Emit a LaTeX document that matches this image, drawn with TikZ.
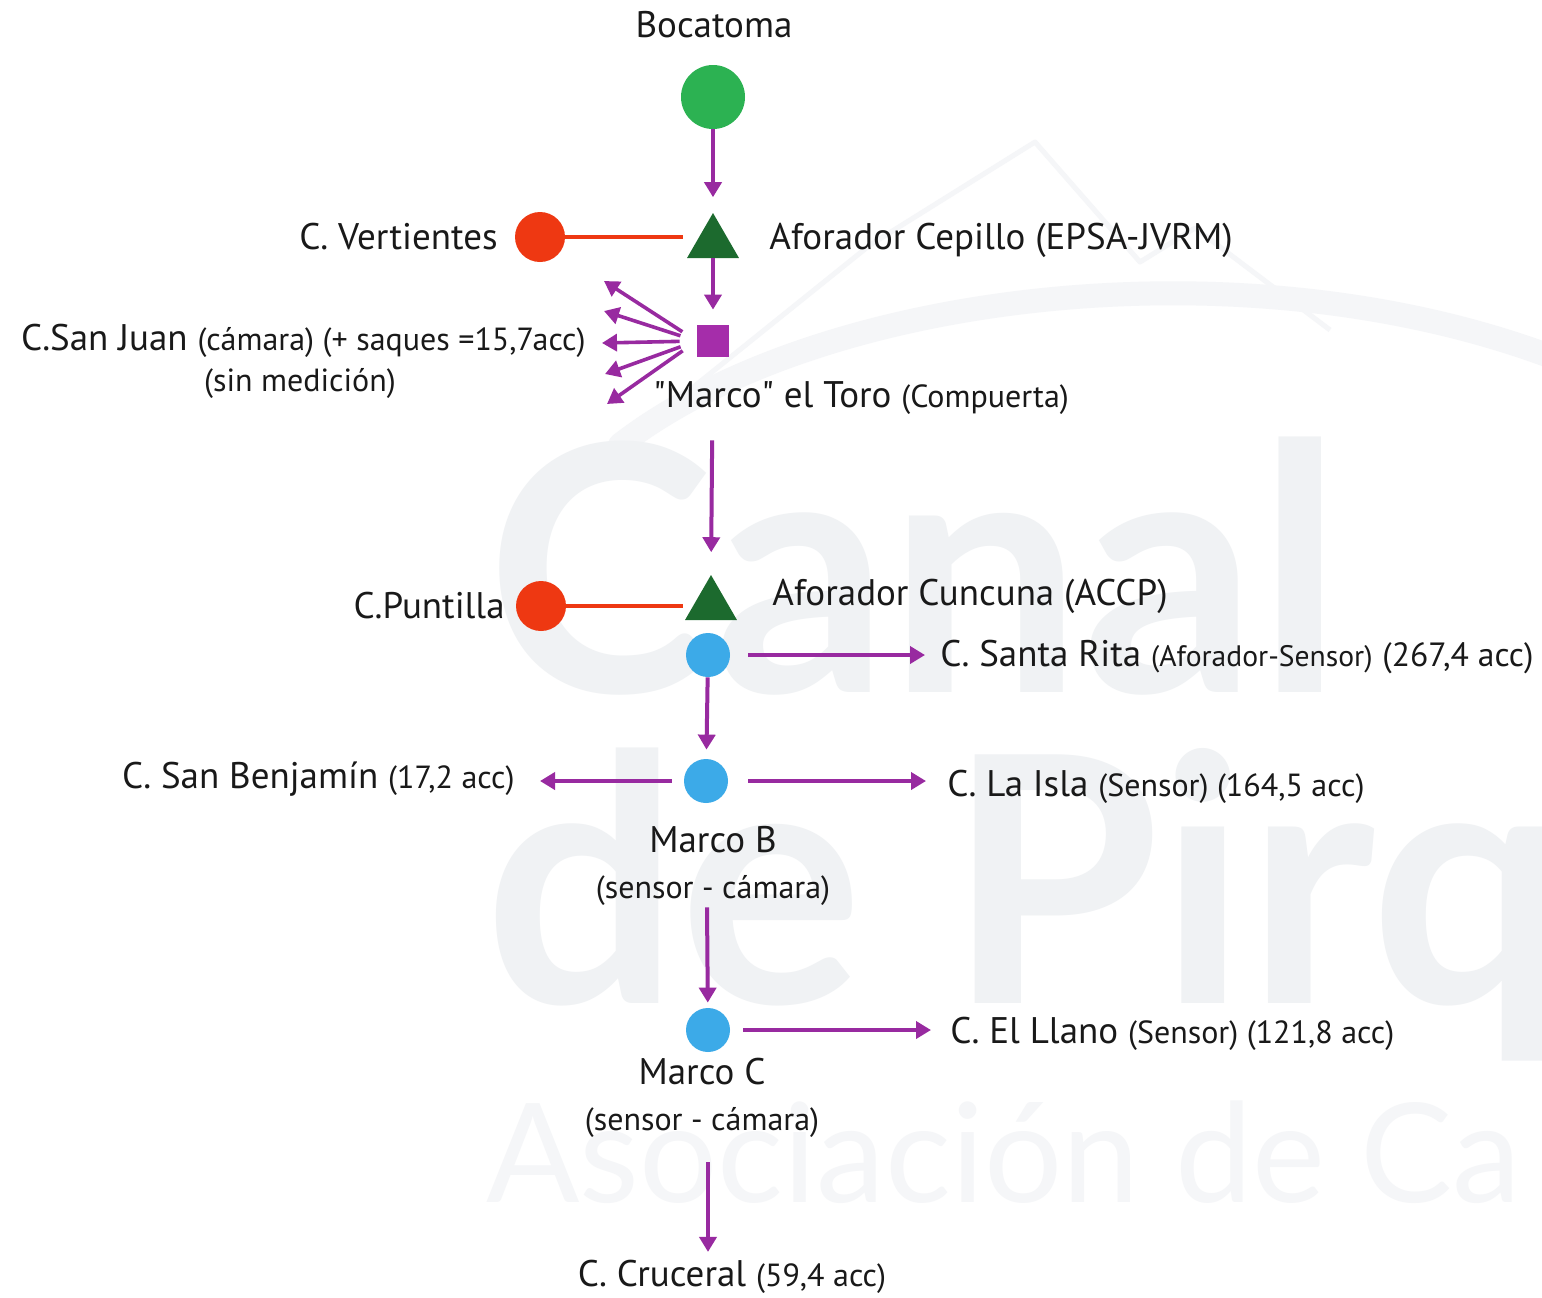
\documentclass[tikz,border=0pt]{standalone}
\usepackage{fontspec}
\setmainfont{PT Sans}
\newfontfamily\wmfont{Lato}
\font\qfont="PT Sans" at 18.5pt
\usetikzlibrary{arrows.meta,shapes.geometric}
\definecolor{purp}{RGB}{152,42,160}
\definecolor{sqpurp}{RGB}{165,45,170}
\definecolor{bgreen}{RGB}{44,178,82}
\definecolor{dgreen}{RGB}{28,106,46}
\definecolor{rred}{RGB}{238,56,18}
\definecolor{lblue}{RGB}{60,170,232}
\definecolor{ink}{RGB}{25,25,25}
\definecolor{wm}{RGB}{240,242,244}
\definecolor{wmlight}{RGB}{245,246,248}
\newcommand\sm{\fontsize{16}{18.5}\selectfont}
\begin{document}
\begin{tikzpicture}[x=0.5pt,y=-0.5pt,
  lbl/.style={text=ink,font=\fontsize{18.5}{21}\selectfont,inner sep=0pt},
  sublbl/.style={text=ink,font=\sm,inner sep=0pt},
  arr/.style={draw=purp,line width=2pt,-{Triangle[length=7.5pt,width=8.5pt]}},
  redline/.style={draw=rred,line width=1.6pt},
  dot/.style={circle,fill=#1,inner sep=0pt,minimum size=22pt},
  tri/.style={regular polygon,regular polygon sides=3,fill=dgreen,inner sep=0pt,minimum size=30pt}]
\useasboundingbox (0,0) rectangle (1542,1297);
\fill[white] (0,0) rectangle (1542,1297);
% watermark
\begin{scope}
\clip (0,0) rectangle (1542,1297);
\draw[wmlight,line width=2.5pt,line join=round] (640,430) -- (870,245) -- (1035,142) -- (1140,262) -- (1195,228) -- (1330,330);
\draw[wmlight,line width=12pt,line cap=round] (620,445) .. controls (820,290) and (1250,240) .. (1560,360);
\node[text=wm,font=\wmfont\bfseries\fontsize{172}{172}\selectfont,anchor=base west,inner sep=0pt] (wm1) at (486,692) {Canal};
\node[text=wm,font=\wmfont\bfseries\fontsize{172}{172}\selectfont,anchor=base west,inner sep=0pt] (wm2) at (484,1003) {de Pirq};
\node[text=wmlight,font=\wmfont\fontsize{69}{69}\selectfont,anchor=base west,inner sep=0pt] (wm3) at (486,1202) {Asociación de Ca};
\end{scope}
% nodes
\node[dot=bgreen,minimum size=32pt] (boca) at (713,97) {};
\node[lbl] (bocaT) at (714,25) {Bocatoma};
\node[tri] (tri1) at (713,243) {};
\node[dot=rred,minimum size=25pt] (vert) at (540,237) {};
\node[lbl,anchor=east] (vertT) at (498,237) {C. Vertientes};
\node[lbl,anchor=west] (cepT) at (769,240) {Aforador Cepillo (EPSA-JVRM)};
\node[rectangle,fill=sqpurp,inner sep=0pt,minimum size=16pt] (sq) at (713,341) {};
\node[lbl,anchor=east] (sjT) at (586,341) {C.San Juan {\sm (cámara) (+ saques =15,7acc)}};
\node[sublbl] (sjT2) at (300,383) {(sin medición)};
\node[lbl,anchor=west] (toroT) at (653,398) {{\qfont "}Marco{\qfont "} el Toro {\sm (Compuerta)}};
\coordinate (f1) at (604,281);
\coordinate (f2) at (604,311);
\coordinate (f3) at (602,343);
\coordinate (f4) at (605,374);
\coordinate (f5) at (607,404);
\node[tri] (tri2) at (711,605) {};
\node[dot=rred,minimum size=25pt] (punt) at (541,606) {};
\node[lbl,anchor=east] (puntT) at (505,606) {C.Puntilla};
\node[lbl,anchor=west] (cuncT) at (772,596) {Aforador Cuncuna (ACCP)};
\node[dot=lblue] (b1) at (708,655) {};
\node[lbl,anchor=west] (santaT) at (940,657) {C. Santa Rita {\fontsize{14.8}{17}\selectfont (Aforador-Sensor)} {\fontsize{16.8}{19}\selectfont (267,4 acc)}};
\node[dot=lblue] (b2) at (706,781) {};
\node[lbl,anchor=east] (benjT) at (515,779) {C. San Benjamín {\sm (17,2 acc)}};
\node[lbl,anchor=west] (islaT) at (947,787) {C. La Isla {\sm (Sensor) (164,5 acc)}};
\node[lbl] (mbT) at (713,840) {Marco B};
\node[sublbl] (mbT2) at (713,890) {(sensor - cámara)};
\node[dot=lblue] (b3) at (708,1030) {};
\node[lbl,anchor=west] (llanoT) at (950,1034) {C. El Llano {\sm (Sensor) (121,8 acc)}};
\node[lbl] (mcT) at (702,1072) {Marco C};
\node[sublbl] (mcT2) at (702,1122) {(sensor - cámara)};
\node[lbl] (crucT) at (732,1277) {C. Cruceral {\sm (59,4 acc)}};
% connectors
\draw[arr,shorten >=7.5pt] (boca) -- (tri1.north);
\draw[arr,shorten >=7.5pt] (tri1.south) -- (sq);
\draw[redline,shorten >=6pt] (vert.east) -- (vert.east -| tri1.west);
\foreach \f in {f1,f2,f3,f4,f5} \draw[arr,line width=1.8pt,shorten <=8.5pt] (sq.west) -- (\f);
\draw[arr,shorten <=41.5pt,shorten >=11pt] (sq) -- (tri2.north);
\draw[redline,shorten >=5pt] (punt.east) -- (punt.east -| tri2.west);
\draw[arr,shorten <=9pt,shorten >=7.5pt] (b1.east) -- (b1.east -| santaT.west);
\draw[arr,shorten >=4.5pt] (b1) -- (b2);
\draw[arr,shorten <=6pt,shorten >=12.5pt] (b2.west) -- (b2.west -| benjT.east);
\draw[arr,shorten <=10pt,shorten >=10.5pt] (b2.east) -- (b2.east -| islaT.west);
\draw[arr,shorten <=52pt,shorten >=2.5pt] (b2) -- (b3);
\draw[arr,shorten <=6.5pt,shorten >=9.5pt] (b3.east) -- (b3.east -| llanoT.west);
\draw[arr,shorten <=55pt,shorten >=4pt] (b3) -- (crucT.north -| b3);
\end{tikzpicture}
\end{document}
